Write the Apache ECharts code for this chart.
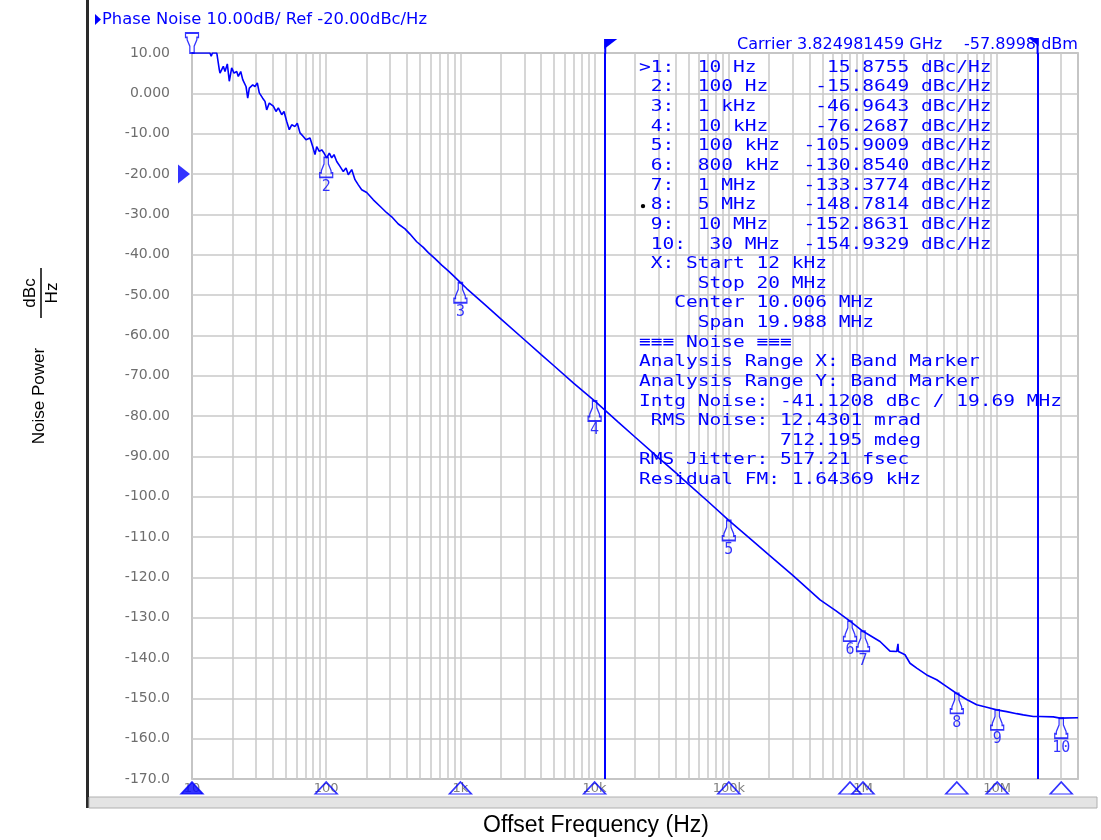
<!DOCTYPE html>
<html><head><meta charset="utf-8">
<script src="https://cdn.jsdelivr.net/npm/echarts@6/dist/echarts.min.js"></script>
<style>html,body{margin:0;padding:0;background:#fff}#c{width:1101px;height:840px}</style>
</head><body><div id="c"></div>
<script>
// ---------- data ----------
const traceFreqHz = [10,13.6,13.9,14.2,15.3,15.97,16.17,17.11,17.62,18.33,18.96,19.76,20.56,21.53,22.13,23.07,23.88,25.26,26.01,26.73,28.34,29.48,30.66,31.73,33.63,34.99,36.02,37.67,40.35,42.26,43.97,46.61,48.49,50.79,53.09,55.33,58.55,60.9,63.8,67.51,70.71,75.74,79.33,82.51,84.96,88.84,92.58,96.3,100.9,105.5,109.9,114.3,119.8,126.7,134.1,140.5,146.1,154.9,163.9,173.5,183.9,200.4,224.4,251.7,282.3,307.7,344.5,386.6,421.1,472.5,529,576.6,646.9,725.6,812.5,885.4,993,1114,1500,2000,3000,4000,5000,7000,10000,15000,20000,30000,40000,50000,70000,100000,150000,200000,300000,479000,630000,800000,1000000,1339000,1589000,1783000,1810000,1823000,1836000,1887000,2056000,2240000,2513000,2984000,3542000,4204000,4991000,5925000,7034000,8350000,9915000,11770000,13970000,15650000,18580000,20840000,26180000,29380000,40000000];
const traceDbc = [10,10,9.2,10,10,5.9,5.0,6.7,5.4,7.3,3.0,6.3,5.0,5.4,4.2,5.4,3.4,1.7,-1.2,1.3,2.1,1.7,2.6,0.1,-1.2,-2.0,-4.1,-2.4,-3.2,-4.5,-3.6,-5.3,-4.5,-7.0,-9.0,-7.8,-8.2,-7.4,-9.8,-10.7,-11.5,-11.1,-13.2,-15.2,-13.2,-14.4,-14.0,-14.8,-16.0,-14.8,-16.0,-15.2,-16.9,-18.1,-19.4,-18.5,-20.2,-18.9,-21.4,-22.7,-23.9,-24.6,-26.4,-28.0,-29.6,-30.6,-32.4,-33.6,-34.9,-36.8,-38.2,-39.5,-41.0,-42.6,-44.0,-45.2,-46.8,-48.4,-52.2,-55.9,-61.1,-64.8,-67.6,-71.9,-76.27,-81.5,-85.2,-90.4,-94.0,-96.9,-101.2,-105.9,-110.9,-114.5,-119.5,-125.6,-128.3,-130.85,-133.38,-135.9,-138.3,-138.4,-138.4,-136.5,-138.4,-138.6,-139.2,-141.3,-142.5,-144.2,-145.4,-147.1,-148.8,-150.3,-151.6,-152.2,-152.86,-153.3,-153.8,-154.1,-154.5,-154.5,-154.6,-154.9,-154.8];

const markerNames   = ['1','2','3','4','5','6','7','8','9','10'];
const markerFreqHz  = [10,100,1000,10000,100000,800000,1000000,5000000,10000000,30000000];
const markerFreqTxt = ['10 Hz','100 Hz','1 kHz','10 kHz','100 kHz','800 kHz','1 MHz','5 MHz','10 MHz','30 MHz'];
const markerDbc     = [15.8755,-15.8649,-46.9643,-76.2687,-105.9009,-130.8540,-133.3774,-148.7814,-152.8631,-154.9329];

const xTickLabels = {10:'10',100:'100',1000:'1k',10000:'10k',100000:'100k',1000000:'1M',10000000:'10M'};
const bandStartHz = 12000, bandStopHz = 20000000;
const refLevelDbc = -20;

const infoLines = [
  ' X: Start 12 kHz',
  '     Stop 20 MHz',
  '   Center 10.006 MHz',
  '     Span 19.988 MHz',
  '\u2261\u2261\u2261 Noise \u2261\u2261\u2261',
  'Analysis Range X: Band Marker',
  'Analysis Range Y: Band Marker',
  'Intg Noise: -41.1208 dBc / 19.69 MHz',
  ' RMS Noise: 12.4301 mrad',
  '            712.195 mdeg',
  'RMS Jitter: 517.21 fsec',
  'Residual FM: 1.64369 kHz'
];

// ---------- chart ----------
const BLUE = '#0000ff', GRIDC = '#c8c8c8';
const chart = echarts.init(document.getElementById('c'));

const minorGridHz = [];
for (let d = 10; d < 4e7; d *= 10) for (let k = 2; k <= 9; k++) { const v = d * k; if (v < 4e7) minorGridHz.push(v); }

const trace = traceFreqHz.map((f, i) => [f, traceDbc[i]]);
const TOP = 10, BOTTOM = -170;
const markerPath = 'path://M4,0 L4,6 L1.5,12 L1.5,14 L0,14 L0,18 L12,18 L12,14 L10.5,14 L10.5,12 L8,6 L8,0 Z';

const markerData = markerFreqHz.map((f, i) => {
  const v = Math.min(markerDbc[i], TOP);
  if (i === 0) return {value: [f, v], symbolRotate: 180, symbolOffset: [0, -10], label: {show: false}};
  return {value: [f, v]};
});

const option = {
  animation: false,
  backgroundColor: '#fff',
  grid: {left: 192, top: 53, width: 886, height: 726, show: true, borderColor: '#a8a8a8', borderWidth: 1.5, backgroundColor: '#fff'},
  xAxis: {
    type: 'log', logBase: 10, min: 10, max: 4e7, splitNumber: 7,
    axisLine: {show: false}, axisTick: {show: false},
    axisLabel: {margin: 3, color: '#808080', fontSize: 13, fontFamily: 'DejaVu Sans', showMaxLabel: false,
      formatter: v => xTickLabels[Math.round(v)] || ''},
    splitLine: {show: true, lineStyle: {color: GRIDC, width: 1.5}}
  },
  yAxis: {
    type: 'value', min: BOTTOM, max: TOP, interval: 10,
    axisLine: {show: false}, axisTick: {show: false},
    axisLabel: {margin: 22, color: '#6e6e6e', fontSize: 14, fontFamily: 'DejaVu Sans', padding: [5, 0, 0, 0],
      formatter: v => Number(v).toPrecision(4)},
    splitLine: {show: true, lineStyle: {color: GRIDC, width: 1.5}}
  },
  series: [
    {type: 'line', data: [], z: 1, silent: true,
      markLine: {silent: true, symbol: ['none', 'none'], label: {show: false}, animation: false,
        lineStyle: {color: GRIDC, width: 1.5, type: 'solid'},
        data: minorGridHz.map(v => ({xAxis: v}))}},
    {type: 'line', data: [], z: 4, silent: true,
      markLine: {silent: true, symbol: ['none', 'none'], label: {show: false}, animation: false,
        lineStyle: {color: BLUE, width: 2, type: 'solid'},
        data: [{xAxis: bandStartHz}, {xAxis: bandStopHz}]}},
    {type: 'line', data: trace, z: 5, showSymbol: false, symbol: 'none',
      lineStyle: {color: BLUE, width: 1.6}},
    {type: 'scatter', data: markerData, z: 6, clip: false,
      symbol: markerPath, symbolSize: [13, 20], symbolOffset: [0, 10],
      itemStyle: {color: 'rgba(255,255,255,0)', borderColor: BLUE, borderWidth: 1.5},
      label: {show: true, position: 'bottom', distance: 1, color: BLUE, fontSize: 15, fontFamily: 'DejaVu Sans Mono',
        formatter: p => markerNames[p.dataIndex]}},
    {type: 'scatter', z: 7, clip: false,
      data: markerFreqHz.map((f, i) => i === 0 ? {value: [f, BOTTOM], itemStyle: {color: BLUE}} : {value: [f, BOTTOM]}),
      symbol: 'triangle', symbolSize: [22, 12], symbolOffset: [0, 9],
      itemStyle: {color: 'rgba(255,255,255,0)', borderColor: BLUE, borderWidth: 1.5}},
    {type: 'scatter', z: 7, clip: false, data: [[10, refLevelDbc]],
      symbol: 'triangle', symbolSize: [19, 12], symbolRotate: -90, symbolOffset: [-8, 0],
      itemStyle: {color: BLUE}}
  ]
};
chart.setOption(option);

// ---------- text & decorations ----------
const MONO = 'DejaVu Sans Mono';
const g = [];
const tableLines = markerFreqHz.map((f, i) => {
  const head = (i === 0 ? '>' : ' ') + markerNames[i] + ':';
  let s = head + '  ' + markerFreqTxt[i];
  const val = markerDbc[i].toFixed(4);
  while (s.length + val.length < 23) s += ' ';
  return s + val + ' dBc/Hz';
});
const allLines = tableLines.concat(infoLines);
allLines.forEach((t, i) => {
  g.push({type: 'text', x: 639, y: 67.7 + i * 19.63, scaleX: 1.22, z: 10,
    style: {text: t, fill: BLUE, font: '16px "' + MONO + '"', textAlign: 'left', textVerticalAlign: 'middle'}});
});
// bullet for active marker 8
g.push({type: 'circle', shape: {cx: 643, cy: 67.7 + 7 * 19.63 + 1, r: 2.2}, style: {fill: '#000'}, z: 11});

// title
g.push({type: 'polygon', shape: {points: [[95, 14], [95, 25], [101, 19.5]]}, style: {fill: BLUE}, z: 10});
g.push({type: 'text', x: 102, y: 20, scaleX: 1.09, z: 10,
  style: {text: 'Phase Noise 10.00dB/ Ref -20.00dBc/Hz', fill: BLUE, font: '15px "DejaVu Sans"', textVerticalAlign: 'middle'}});
g.push({type: 'text', x: 737, y: 45, scaleX: 1.07, z: 10,
  style: {text: 'Carrier 3.824981459 GHz', fill: BLUE, font: '15px "DejaVu Sans"', textVerticalAlign: 'middle'}});
g.push({type: 'text', x: 1078, y: 45, scaleX: 1.07, z: 10,
  style: {text: '-57.8998 dBm', fill: BLUE, font: '15px "DejaVu Sans"', textAlign: 'right', textVerticalAlign: 'middle'}});

// band marker line extensions + flags
const xs = chart.convertToPixel({xAxisIndex: 0}, bandStartHz);
const xe = chart.convertToPixel({xAxisIndex: 0}, bandStopHz);
g.push({type: 'line', shape: {x1: xs, y1: 39, x2: xs, y2: 54}, style: {stroke: BLUE, lineWidth: 2}, z: 12});
g.push({type: 'line', shape: {x1: xe, y1: 38, x2: xe, y2: 54}, style: {stroke: BLUE, lineWidth: 2}, z: 12});
g.push({type: 'polygon', shape: {points: [[xs - 1, 39], [xs + 12, 39], [xs - 1, 49]]}, style: {fill: BLUE}, z: 12});
g.push({type: 'polygon', shape: {points: [[xe - 9, 38], [xe + 1, 38], [xe + 1, 46]]}, style: {fill: BLUE}, z: 12});

// frame of the analyzer screenshot
g.push({type: 'rect', shape: {x: 86, y: 0, width: 3, height: 808}, style: {fill: '#2a2a2a'}, z: 0});
g.push({type: 'rect', shape: {x: 89, y: 797, width: 1008, height: 11}, style: {fill: '#e4e4e4', stroke: '#b0b0b0', lineWidth: 1}, z: 0});

// axis titles (outside the screenshot)
g.push({type: 'text', x: 596, y: 826, z: 10,
  style: {text: 'Offset Frequency (Hz)', fill: '#000', font: '23px "Liberation Sans"', textAlign: 'center', textVerticalAlign: 'middle'}});
g.push({type: 'text', x: 39, y: 396, rotation: Math.PI / 2, z: 10,
  style: {text: 'Noise Power', fill: '#000', font: '17px "Liberation Sans"', textAlign: 'center', textVerticalAlign: 'middle'}});
g.push({type: 'text', x: 30, y: 293, rotation: Math.PI / 2, z: 10,
  style: {text: 'dBc', fill: '#000', font: '17px "Liberation Sans"', textAlign: 'center', textVerticalAlign: 'middle'}});
g.push({type: 'line', shape: {x1: 41, y1: 268, x2: 41, y2: 318}, style: {stroke: '#000', lineWidth: 1.5}, z: 10});
g.push({type: 'text', x: 52, y: 293, rotation: Math.PI / 2, z: 10,
  style: {text: 'Hz', fill: '#000', font: '17px "Liberation Sans"', textAlign: 'center', textVerticalAlign: 'middle'}});

chart.setOption({graphic: {elements: g}});
</script></body></html>
